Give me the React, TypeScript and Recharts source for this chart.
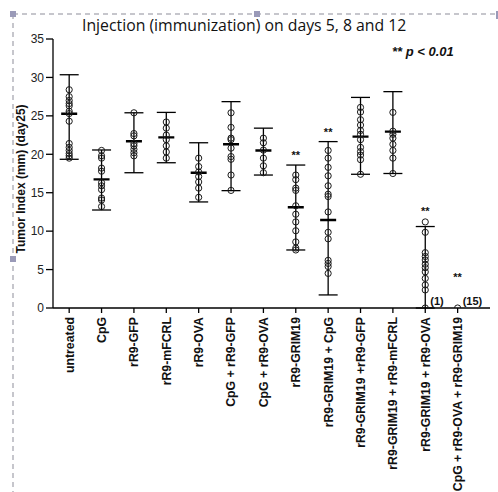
import React from 'react';
import { ComposedChart, Scatter, XAxis, YAxis, ErrorBar } from 'recharts';

const categories = [
  'untreated',
  'CpG',
  'rR9-GFP',
  'rR9-mFCRL',
  'rR9-OVA',
  'CpG + rR9-GFP',
  'CpG + rR9-OVA',
  'rR9-GRIM19',
  'rR9-GRIM19 + CpG',
  'rR9-GRIM19 +rR9-GFP',
  'rR9-GRIM19 + rR9-mFCRL',
  'rR9-GRIM19 + rR9-OVA',
  'CpG + rR9-OVA + rR9-GRIM19',
];

const untreatedValues = [28.4, 27.5, 27.0, 26.6, 26.3, 25.6, 25.3, 24.3, 21.4, 20.9, 20.5, 20.1, 19.8, 19.5];
const cpgValues = [20.5, 19.8, 19.5, 18.2, 17.8, 16.3, 15.9, 15.4, 14.3, 14.05, 13.2];
const gfpValues = [25.4, 22.7, 22.4, 21.4, 21.1, 20.65, 20.2, 19.8];
const mfcrlValues = [24.2, 23.4, 22.5, 21.9, 21.1, 20.3, 19.5];
const ovaValues = [19.5, 18.4, 17.7, 17.1, 16.4, 15.6, 14.4];
const cpgGfpValues = [25.4, 23.5, 22.1, 21.9, 20.8, 19.7, 19.35, 17.3, 15.3];
const cpgOvaValues = [22.1, 21.5, 20.55, 19.5, 18.5, 17.6];
const grimValues = [17.3, 16.7, 15.6, 15.3, 13.3, 12.2, 11.2, 10.05, 8.6, 7.8, 7.55];
const grimCpgValues = [20.5, 19.5, 18.3, 17.2, 15.9, 14.8, 14.5, 12.5, 9.85, 9.0, 6.2, 5.8, 5.4, 4.5];
const grimGfpValues = [26.1, 25.5, 24.5, 23.8, 23.1, 22.6, 21.9, 20.9, 20.35, 19.9, 19.3, 17.4];
const grimMfcrlValues = [25.45, 23.0, 22.6, 22.1, 21.3, 20.5, 19.5, 17.5];
const grimOvaValues = [11.2, 9.85, 7.2, 6.7, 6.25, 5.7, 5.25, 4.7, 3.85, 3.0, 2.35, 0];
const cpgOvaGrimValues = [0];

const groupValues = [
  untreatedValues, cpgValues, gfpValues, mfcrlValues, ovaValues, cpgGfpValues,
  cpgOvaValues, grimValues, grimCpgValues, grimGfpValues, grimMfcrlValues,
  grimOvaValues, cpgOvaGrimValues,
];

// whiskers (groups 0..11)
const whiskerLow = [19.35, 12.75, 17.6, 18.9, 13.8, 15.27, 17.3, 7.55, 1.7, 17.4, 17.5, 0];
const whiskerHigh = [30.35, 20.56, 25.4, 25.45, 21.5, 26.85, 23.4, 18.6, 21.65, 27.4, 28.15, 10.6];
// mean bars (groups 0..10)
const means = [25.28, 16.74, 21.7, 22.2, 17.6, 21.3, 20.5, 13.1, 11.45, 22.3, 22.95];

const starGroups = [7, 8, 11, 12];
const starY = [20.1, 23.0, 12.75, 4.16];

const countGroups = [11, 12];
const countTexts = ['(1)', '(15)'];

const yTicks = [0, 5, 10, 15, 20, 25, 30, 35];
const xTicks = categories.map((_, i) => i);

const pointData = groupValues.flatMap((vals, g) => vals.map((v) => ({ x: g, y: v })));
const whiskerData = whiskerLow.map((lo, g) => {
  const mid = (lo + whiskerHigh[g]) / 2;
  return { x: g, y: mid, err: [mid - lo, whiskerHigh[g] - mid] };
});
const meanData = means.map((m, g) => ({ x: g, y: m }));
const starData = starGroups.map((g, i) => ({ x: g, y: starY[i] }));
const countData = countGroups.map((g, i) => ({ x: g, y: 0, label: countTexts[i] }));

const FONT = '"Liberation Sans", Arial, sans-serif';

const XTick = (props: any) => {
  const { x, y, payload } = props;
  return (
    <g transform={`translate(${x},${y})`}>
      <text
        transform="rotate(-90)"
        x={-2}
        y={0}
        dy="0.36em"
        textAnchor="end"
        fontFamily={FONT}
        fontWeight="bold"
        fontSize={12.3}
        fill="#111"
      >
        {categories[payload.value]}
      </text>
    </g>
  );
};

const Circle = (props: any) => (
  <circle cx={props.cx} cy={props.cy} r={3.1} fill="none" stroke="#1a1a1a" strokeWidth={1} />
);
const Empty = () => <g />;
const MeanBar = (props: any) => (
  <line x1={props.cx - 8} x2={props.cx + 8} y1={props.cy} y2={props.cy} stroke="#000" strokeWidth={2.4} />
);
const Star = (props: any) => (
  <text x={props.cx} y={props.cy + 5} textAnchor="middle" fontFamily={FONT} fontWeight="bold" fontSize={11} fill="#111">
    **
  </text>
);
const CountLabel = (props: any) => (
  <text x={props.cx + 5} y={props.cy - 3} fontFamily={FONT} fontWeight="bold" fontSize={11} fill="#111">
    {props.payload.label}
  </text>
);

export default function App() {
  return (
    <div style={{ position: 'absolute', left: 0, top: 0, width: 498, height: 492, background: '#fff' }}>
      <svg width={498} height={492} style={{ position: 'absolute', left: 0, top: 0 }}>
        <line x1={13} y1={14} x2={498} y2={14} stroke="#8d8d99" strokeDasharray="5 4" strokeWidth={1} />
        <line x1={13} y1={14} x2={13} y2={492} stroke="#8d8d99" strokeDasharray="5 4" strokeWidth={1} />
        <rect x={10} y={11} width={6} height={6} fill="#9a9ab8" />
        <rect x={254} y={11} width={6} height={6} fill="#9a9ab8" />
        <rect x={10} y={256} width={6} height={6} fill="#9a9ab8" />
        <rect x={496} y={11} width={2} height={8} fill="#9a9ab8" />
      </svg>
      <div style={{ position: 'absolute', left: 0, top: 0 }}>
        <ComposedChart width={498} height={492} margin={{ top: 39, right: 8, bottom: 0, left: 0 }}>
          <XAxis
            type="number"
            dataKey="x"
            domain={[-0.5, 12.5]}
            ticks={xTicks}
            interval={0}
            height={184}
            tickSize={5}
            tick={<XTick />}
            stroke="#000"
            axisLine={{ stroke: '#000', strokeWidth: 1.3 }}
            tickLine={{ stroke: '#000', strokeWidth: 1.3 }}
            allowDecimals={false}
          />
          <YAxis
            type="number"
            dataKey="y"
            domain={[0, 35]}
            ticks={yTicks}
            width={53}
            tickSize={7}
            tickMargin={2}
            axisLine={{ stroke: '#000', strokeWidth: 1.3 }}
            tickLine={{ stroke: '#000', strokeWidth: 1.3 }}
            tick={{ fontFamily: FONT, fontSize: 12, fill: '#222' }}
            allowDataOverflow
          />
          <Scatter data={whiskerData} shape={<Empty />} isAnimationActive={false}>
            <ErrorBar dataKey="err" direction="y" width={9.5} stroke="#000" strokeWidth={1.3} isAnimationActive={false} />
          </Scatter>
          <Scatter data={meanData} shape={<MeanBar />} isAnimationActive={false} />
          <Scatter data={pointData} shape={<Circle />} isAnimationActive={false} />
          <Scatter data={starData} shape={<Star />} isAnimationActive={false} />
          <Scatter data={countData} shape={<CountLabel />} isAnimationActive={false} />
        </ComposedChart>
      </div>
      <svg width={498} height={492} style={{ position: 'absolute', left: 0, top: 0, pointerEvents: 'none' }}>
        <text x={82} y={31} fontFamily='"Open Sans", sans-serif' fontSize={15.8} fill="#111">
          Injection (immunization) on days 5, 8 and 12
        </text>
        <text x={392} y={56} fontFamily={FONT} fontSize={13} fontWeight="bold" fontStyle="italic" fill="#111">
          ** p &lt; 0.01
        </text>
        <text
          transform="translate(25,179) rotate(-90)"
          textAnchor="middle"
          fontFamily={FONT}
          fontSize={12}
          fontWeight="bold"
          fill="#111"
        >
          Tumor Index (mm) (day25)
        </text>
      </svg>
    </div>
  );
}
